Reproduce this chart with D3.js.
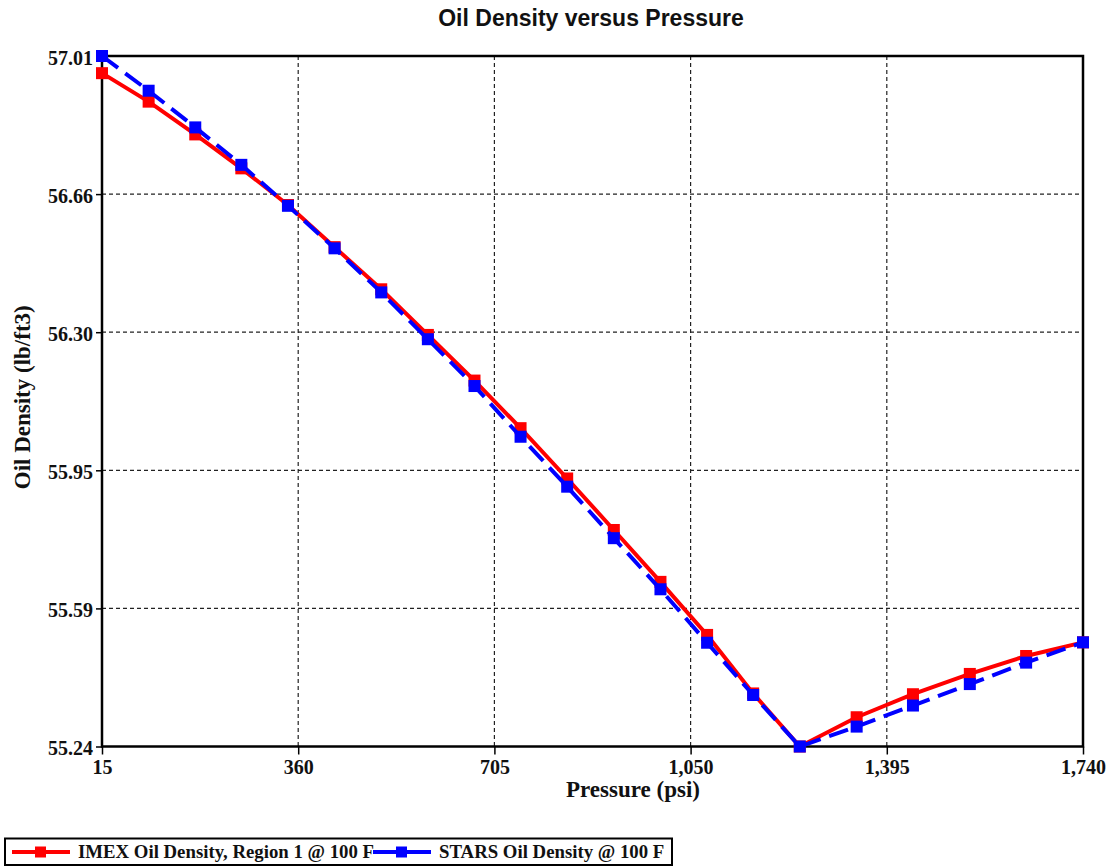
<!DOCTYPE html>
<html>
<head>
<meta charset="utf-8">
<script src="https://cdn.jsdelivr.net/npm/d3@7"></script>
<style>
  body { margin: 0; background: #fff; }
  .tick text { font-family: "Liberation Serif", "Times New Roman", serif; font-weight: bold; font-size: 20px; fill: #111; }
</style>
</head>
<body>
<div id="chart"></div>
<script>
// chart size and plot margins
const width = 1118;
const height = 867;
const margin = {left: 102, right: 35, top: 56, bottom: 120.5};

// values
const pressure = [15, 97, 179, 260, 342, 424, 506, 588, 670, 751, 833, 915, 997, 1079, 1160, 1242, 1342, 1441, 1541, 1640, 1740];
const imexDensity = [56.966, 56.893, 56.809, 56.722, 56.628, 56.520, 56.412, 56.295, 56.178, 56.056, 55.927, 55.795, 55.662, 55.526, 55.376, 55.240, 55.315, 55.374, 55.426, 55.472, 55.507];
const starsDensity = [57.010, 56.921, 56.827, 56.731, 56.626, 56.517, 56.404, 56.284, 56.164, 56.034, 55.906, 55.774, 55.643, 55.506, 55.372, 55.240, 55.291, 55.345, 55.400, 55.455, 55.507];
const xTicks = [15, 360, 705, 1050, 1395, 1740];
const yTicks = [55.24, 55.594, 55.948, 56.302, 56.656, 57.01];
const seriesNames = ["IMEX Oil Density, Region 1 @ 100 F", "STARS Oil Density @ 100 F"];

const svg = d3.select("#chart")
  .append("svg")
  .attr("width", width)
  .attr("height", height)
  .attr("viewBox", [0, 0, width, height]);

// scales
const x = d3.scaleLinear()
  .domain([15, 1740])
  .range([margin.left, width - margin.right]);

const y = d3.scaleLinear()
  .domain([55.24, 57.01])
  .range([height - margin.bottom, margin.top]);

// dotted grid
svg.append("g")
  .selectAll("line")
  .data(xTicks.slice(1, -1))
  .join("line")
    .attr("x1", d => x(d)).attr("x2", d => x(d))
    .attr("y1", margin.top).attr("y2", height - margin.bottom)
    .attr("stroke", "#222").attr("stroke-width", 1.2)
    .attr("stroke-dasharray", "4,3");

svg.append("g")
  .selectAll("line")
  .data(yTicks.slice(1, -1))
  .join("line")
    .attr("x1", margin.left).attr("x2", width - margin.right)
    .attr("y1", d => y(d)).attr("y2", d => y(d))
    .attr("stroke", "#222").attr("stroke-width", 1.2)
    .attr("stroke-dasharray", "4,3");

// axes
const xAxis = svg.append("g")
  .attr("transform", `translate(0,${height - margin.bottom})`)
  .call(d3.axisBottom(x).tickValues(xTicks).tickFormat(d3.format(",")).tickSize(8).tickPadding(5));
xAxis.select(".domain").remove();
xAxis.selectAll(".tick line").attr("stroke", "#000").attr("stroke-width", 1.5);

const yAxis = svg.append("g")
  .attr("transform", `translate(${margin.left},0)`)
  .call(d3.axisLeft(y).tickValues(yTicks).tickFormat(d3.format(".2f")).tickSize(6).tickPadding(3));
yAxis.select(".domain").remove();
yAxis.selectAll(".tick line").attr("stroke", "#000").attr("stroke-width", 1.5);
yAxis.selectAll(".tick text").attr("dy", "0.4em");

// frame
svg.append("rect")
  .attr("x", margin.left)
  .attr("y", margin.top)
  .attr("width", width - margin.left - margin.right)
  .attr("height", height - margin.top - margin.bottom)
  .attr("fill", "none")
  .attr("stroke", "#000")
  .attr("stroke-width", 2.5);

// series
const line = d3.line()
  .x(d => x(d[0]))
  .y(d => y(d[1]));

const series = [
  {name: seriesNames[0], values: d3.zip(pressure, imexDensity), color: "#ff0000", dash: null},
  {name: seriesNames[1], values: d3.zip(pressure, starsDensity), color: "#0000ff", dash: "20,9"}
];

const markSize = 12;

series.forEach(s => {
  svg.append("path")
    .datum(s.values)
    .attr("fill", "none")
    .attr("stroke", s.color)
    .attr("stroke-width", 4)
    .attr("stroke-dasharray", s.dash)
    .attr("d", line);

  svg.append("g")
    .selectAll("rect")
    .data(s.values)
    .join("rect")
      .attr("x", d => x(d[0]) - markSize / 2)
      .attr("y", d => y(d[1]) - markSize / 2)
      .attr("width", markSize)
      .attr("height", markSize)
      .attr("fill", s.color);
});

// titles
svg.append("text")
  .attr("x", 591)
  .attr("y", 26)
  .attr("text-anchor", "middle")
  .attr("font-family", "'Liberation Sans', Arial, sans-serif")
  .attr("font-weight", "bold")
  .attr("font-size", "23px")
  .attr("fill", "#111")
  .text("Oil Density versus Pressure");

svg.append("text")
  .attr("x", 633)
  .attr("y", 797)
  .attr("text-anchor", "middle")
  .attr("font-family", "'Liberation Serif', 'Times New Roman', serif")
  .attr("font-weight", "bold")
  .attr("font-size", "23px")
  .attr("fill", "#111")
  .text("Pressure (psi)");

svg.append("text")
  .attr("transform", `translate(30,${(margin.top + height - margin.bottom) / 2 - 4}) rotate(-90)`)
  .attr("text-anchor", "middle")
  .attr("font-family", "'Liberation Serif', 'Times New Roman', serif")
  .attr("font-weight", "bold")
  .attr("font-size", "23px")
  .attr("fill", "#111")
  .text("Oil Density (lb/ft3)");

// legend
const legend = svg.append("g");

legend.append("rect")
  .attr("x", 5)
  .attr("y", 838.5)
  .attr("width", 667)
  .attr("height", 26.5)
  .attr("fill", "#fff")
  .attr("stroke", "#000")
  .attr("stroke-width", 2);

const legendX = [12, 373];
const legendY = 852;

series.forEach((s, i) => {
  const lx = legendX[i];
  legend.append("line")
    .attr("x1", lx).attr("x2", lx + 58)
    .attr("y1", legendY).attr("y2", legendY)
    .attr("stroke", s.color)
    .attr("stroke-width", 4);
  legend.append("rect")
    .attr("x", lx + 23)
    .attr("y", legendY - 5.5)
    .attr("width", 11)
    .attr("height", 11)
    .attr("fill", s.color);
  legend.append("text")
    .attr("x", lx + 66)
    .attr("y", legendY + 6)
    .attr("font-family", "'Liberation Serif', 'Times New Roman', serif")
    .attr("font-weight", "bold")
    .attr("font-size", "18.8px")
    .attr("fill", "#111")
    .text(s.name);
});
</script>
</body>
</html>
